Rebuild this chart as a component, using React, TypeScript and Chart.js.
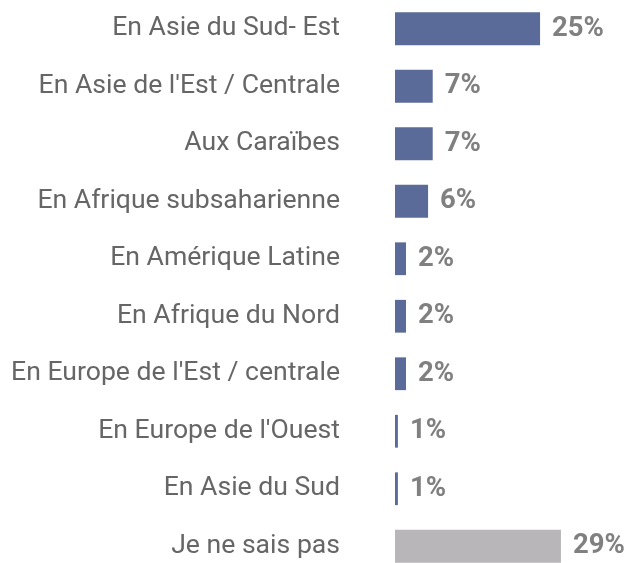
import React, { useEffect, useRef } from "react";
import { Chart, registerables } from "chart.js";

Chart.register(...registerables);

const categories = [
  "En Asie du Sud- Est",
  "En Asie de l'Est / Centrale",
  "Aux Caraïbes",
  "En Afrique subsaharienne",
  "En Amérique Latine",
  "En Afrique du Nord",
  "En Europe de l'Est / centrale",
  "En Europe de l'Ouest",
  "En Asie du Sud",
  "Je ne sais pas",
];
const values = [25, 6.5, 6.5, 5.7, 1.9, 1.9, 1.9, 0.5, 0.5, 28.6];
const valueLabels = ["25%", "7%", "7%", "6%", "2%", "2%", "2%", "1%", "1%", "29%"];
const barColors = [
  "#5b6b99", "#5b6b99", "#5b6b99", "#5b6b99", "#5b6b99",
  "#5b6b99", "#5b6b99", "#5b6b99", "#5b6b99", "#b8b6b8",
];

const dataLabelPlugin = {
  id: "dataLabels",
  afterDatasetsDraw(chart: any) {
    const ctx = chart.ctx;
    const meta = chart.getDatasetMeta(0);
    ctx.save();
    ctx.font = "bold 27.5px Roboto";
    ctx.fillStyle = "#808080";
    ctx.textAlign = "left";
    ctx.textBaseline = "middle";
    meta.data.forEach((bar: any, i: number) => {
      ctx.fillText(valueLabels[i], bar.x + 12, bar.y);
    });
    ctx.restore();
  },
};

export default function App() {
  const ref = useRef<HTMLCanvasElement>(null);
  useEffect(() => {
    if (!ref.current) return;
    const chart = new Chart(ref.current, {
      type: "bar",
      data: {
        labels: categories,
        datasets: [
          {
            data: values,
            backgroundColor: barColors,
            categoryPercentage: 1,
            barPercentage: 0.57,
          },
        ],
      },
      options: {
        indexAxis: "y",
        animation: false,
        responsive: false,
        maintainAspectRatio: false,
        layout: { padding: 0 },
        plugins: { legend: { display: false }, tooltip: { enabled: false } },
        scales: {
          x: { display: false, min: 0, max: 40.5 },
          y: {
            grid: { display: false, drawTicks: false },
            border: { display: false },
            ticks: {
              padding: 55,
              color: "#666666",
              font: { family: "Roboto", size: 26.6 },
            },
            afterFit(axis: any) {
              axis.width = 395;
              axis.paddingTop = 0;
              axis.paddingBottom = 0;
            },
          },
        },
      },
      plugins: [dataLabelPlugin],
    });
    return () => chart.destroy();
  }, []);
  return (
    <div style={{ position: "absolute", left: 0, top: 0, width: 630, height: 575 }}>
      <canvas ref={ref} width={630} height={575} style={{ display: "block" }} />
    </div>
  );
}
